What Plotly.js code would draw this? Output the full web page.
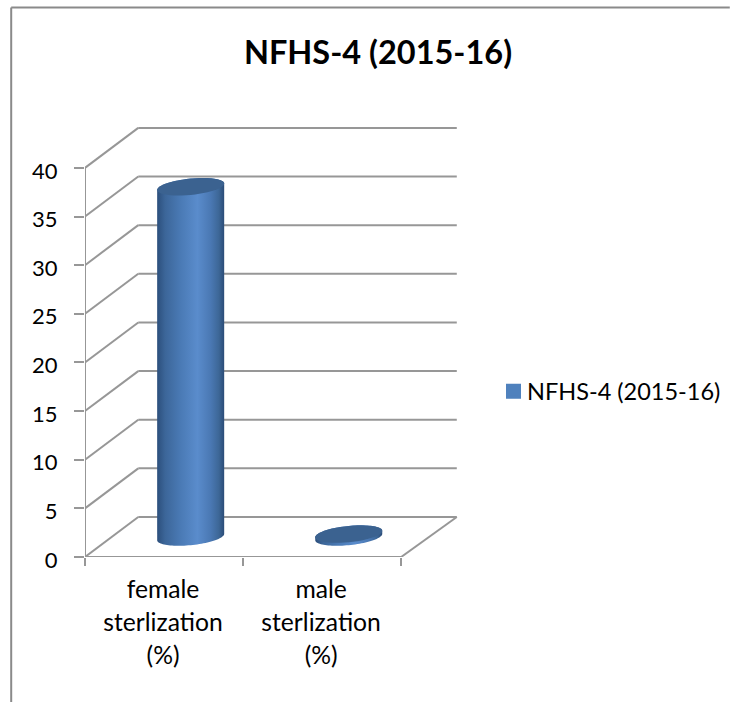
<!DOCTYPE html>
<html>
<head>
<meta charset="utf-8">
<script src="https://cdn.plot.ly/plotly-3.0.1.min.js"></script>
<style>html,body{margin:0;padding:0;background:#fff}</style>
</head>
<body>
<div id="chart" style="width:731px;height:702px"></div>
<script>
// Data
const chartTitle = 'NFHS-4 (2015-16)';
const seriesName = 'NFHS-4 (2015-16)';
const categories = ['female<br>sterlization<br>(%)', 'male<br>sterlization<br>(%)'];
const values = [36, 0.3];
const yTicks = [0, 5, 10, 15, 20, 25, 30, 35, 40];

// Drawing helpers (pseudo-3D projection in axis units)
const GRID = '#979797';
const depthL = 0.337, depthR = 0.352, depthY = 4.11;   // back wall offset
const midX = depthL / 2, midY = depthY / 2;            // column sits mid-depth
const rx = 0.212, ry = 0.84, tilt = 0.33;              // ellipse radii and skew
const xMin = -0.5, xMax = 1.5, xTop = 1.866;
const M = {l: 84.5, r: 271.5, t: 127, b: 145};
const paperX = px => (px - M.l) / (731 - M.l - M.r);
const paperY = py => (702 - M.b - py) / (702 - M.t - M.b);

function arc(cx, cy, from, to) {
  const xs = [], ys = [];
  for (let i = 0; i <= 48; i++) {
    const t = from + (to - from) * i / 48;
    xs.push(cx + rx * Math.cos(t));
    ys.push(cy - ry * Math.sin(t) + tilt * Math.cos(t));
  }
  return [xs, ys];
}
const shapes = [];
function seg(x0, y0, x1, y1) {
  shapes.push({type: 'line', xref: 'x', yref: 'y', x0, y0, x1, y1, layer: 'below',
    line: {color: GRID, width: 2}});
}
yTicks.forEach(v => {
  seg(xMin + depthL, v + depthY, xMax + depthR, v + depthY);
  seg(xMin, v, xMin + depthL, v + depthY);
});
seg(xMin, 0, xMin, 40);
seg(xMin, 0, xMax, 0);
seg(xMax, 0, xMax + depthR, depthY);
// outer chart frame
[[10.5, 7.5, 10.5, 702], [10.5, 7.5, 731, 7.5]].forEach(p => shapes.push({
  type: 'line', xref: 'paper', yref: 'paper',
  x0: paperX(p[0]), x1: paperX(p[2]), y0: paperY(p[1]), y1: paperY(p[3]),
  line: {color: '#8a8a8a', width: 2}
}));

const traces = [{
  type: 'bar', x: categories, y: values, name: seriesName, base: midY,
  width: 0.3, offset: midX - 0.15, marker: {color: '#4f81bd', line: {width: 3, color: '#4f81bd'}},
  showlegend: true, hoverinfo: 'skip'
}];
const bodyScale = [[0, '#2c4f7c'], [0.12, '#3c6699'], [0.35, '#4a7ab5'], [0.6, '#5a8ccc'], [0.8, '#4a78b3'], [0.92, '#3d6797'], [1, '#2b4c77']];
values.forEach((v, i) => {
  const cx = i + midX, top = v + midY;
  const lower = arc(cx, midY, 0, Math.PI);
  const upper = arc(cx, top, Math.PI, 2 * Math.PI);
  traces.push({
    type: 'scatter', xaxis: 'x2', mode: 'none', fill: 'toself',
    x: lower[0].concat(upper[0]), y: lower[1].concat(upper[1]),
    fillgradient: {type: 'horizontal', colorscale: bodyScale}, showlegend: false, hoverinfo: 'skip'
  });
  const cap = arc(cx, top, 0, 2 * Math.PI);
  traces.push({
    type: 'scatter', xaxis: 'x2', mode: 'none', fill: 'toself', x: cap[0], y: cap[1],
    fillcolor: '#3b6290', showlegend: false, hoverinfo: 'skip'
  });
});

const layout = {
  width: 731, height: 702, paper_bgcolor: '#fff', plot_bgcolor: 'rgba(0,0,0,0)',
  margin: M,
  font: {family: 'Lato, Carlito, sans-serif', color: '#000', size: 22},
  title: {text: chartTitle, font: {size: 32.5, weight: 700, color: '#000'},
    x: 378 / 731, xanchor: 'center', y: 1 - 53 / 702, yanchor: 'middle'},
  xaxis: {type: 'category', categoryorder: 'array', categoryarray: categories,
    range: [xMin, xTop], tickson: 'boundaries', ticks: 'outside', ticklen: 8, tickwidth: 2,
    tickcolor: GRID, showgrid: false, zeroline: false, showline: false, tickfont: {size: 24.7},
    ticklabelstandoff: 15, ticklabelshift: -1, fixedrange: true},
  xaxis2: {type: 'linear', overlaying: 'x', range: [xMin, xTop], visible: false, fixedrange: true},
  yaxis: {range: [0, 44.2], tickmode: 'array', tickvals: yTicks, ticktext: yTicks.map(String),
    ticks: 'outside', ticklen: 10, tickwidth: 2, tickcolor: GRID, showgrid: false, zeroline: false,
    showline: false, tickfont: {size: 22}, ticklabelstandoff: 12, ticklabelshift: 3, fixedrange: true},
  legend: {xref: 'container', yref: 'container', x: 487 / 731, xanchor: 'left', y: 1 - 391.5 / 702, yanchor: 'middle',
    font: {size: 23.5}, itemwidth: 30, bgcolor: 'rgba(0,0,0,0)'},
  shapes, showlegend: true, bargap: 0
};
Plotly.newPlot('chart', traces, layout, {displayModeBar: false, staticPlot: true}).then(() => {
  // Wider line pitch of the category labels
  document.querySelectorAll('.xtick text tspan.line').forEach(t => {
    const n = +t.getAttribute('dy').replace('em', '') / 1.3;
    t.setAttribute('dy', (n * 1.336) + 'em');
  });
  // Legend swatch sits closer to its text
  const pts = document.querySelector('.legend .legendpoints');
  if (pts) pts.setAttribute('transform', 'translate(6.5,0)');
});
</script>
</body>
</html>
